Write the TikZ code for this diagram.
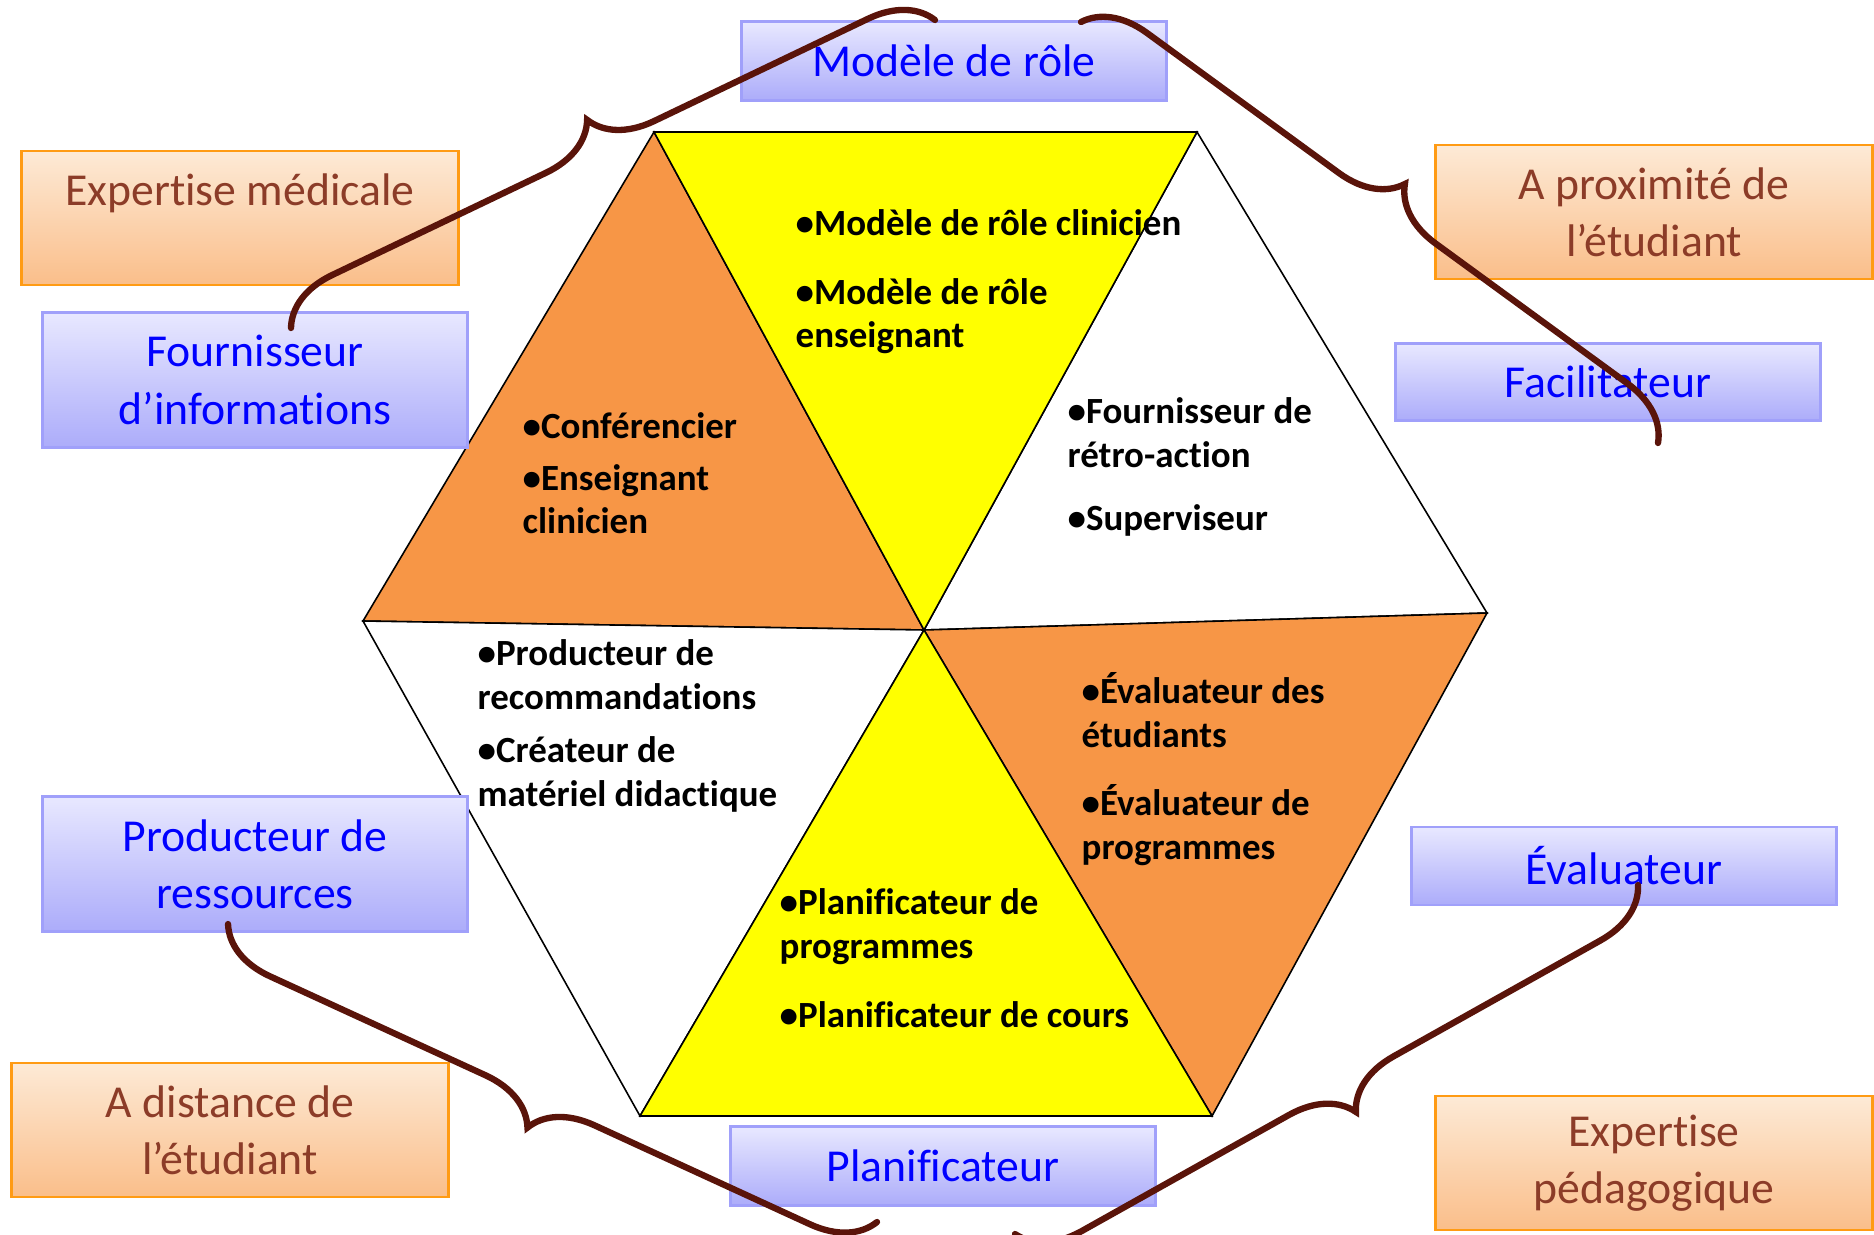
\documentclass[tikz,border=0pt]{standalone}
\usepackage{fontspec}
\setmainfont[Ligatures={NoCommon,NoContextual}, Contextuals=NoAlternate]{Carlito}
\usetikzlibrary{decorations.pathreplacing}
\definecolor{bordbleu}{RGB}{160,160,250}
\definecolor{hautbleu}{RGB}{232,232,255}
\definecolor{basbleu}{RGB}{172,172,250}
\definecolor{bordorange}{RGB}{255,155,20}
\definecolor{hautorange}{RGB}{253,234,214}
\definecolor{basorange}{RGB}{250,190,138}
\definecolor{brun}{RGB}{140,60,40}
\definecolor{accolade}{RGB}{90,20,10}
\definecolor{orangetri}{RGB}{247,150,70}
\definecolor{jaune}{RGB}{255,255,0}
\tikzset{
	boite/.style={minimum width=4.25cm, align=center, inner sep=0pt, line width=0.7pt, font=\fontsize{13}{16.3}\selectfont}, % Cadres des rôles
	bleue/.style={boite, draw=bordbleu, top color=hautbleu, bottom color=basbleu, text=blue}, % Rôles
	orange/.style={boite, minimum width=4.37cm, minimum height=1.34cm, draw=bordorange, top color=hautorange, bottom color=basorange, text=brun}, % Expertises
	liste/.style={anchor=base west, align=left, inner sep=0pt, font=\fontsize{10.5}{12.5}\selectfont\bfseries}, % Texte des triangles (ligne de base de la derniere ligne)
	tri/.style={draw=black, line width=0.45pt, line join=miter}, % Triangles de l'hexagone
	brace/.style={decorate, decoration={brace, amplitude=0.6cm}, draw=accolade, line width=1.8pt, line cap=round} % Accolades
}

\begin{document}
\begin{tikzpicture}[x=0.01cm, y=-0.01cm]
				\useasboundingbox (0,0) rectangle (1874,1234);
				
				\coordinate (hg) at (654,132);
				\coordinate (hd) at (1197,132);
				\coordinate (d) at (1487,613);
				\coordinate (bd) at (1212,1116);
				\coordinate (bg) at (640,1116);
				\coordinate (g) at (363,621);
				\coordinate (c) at (924,630);
				
				\filldraw[tri, fill=orangetri] (hg) -- (g) -- (c) -- cycle;
				\filldraw[tri, fill=white] (hd) -- (d) -- (c) -- cycle;
				\filldraw[tri, fill=white] (g) -- (bg) -- (c) -- cycle;
				\filldraw[tri, fill=orangetri] (d) -- (bd) -- (c) -- cycle;
				\filldraw[tri, fill=jaune] (hg) -- (hd) -- (c) -- cycle;
				\filldraw[tri, fill=jaune] (bg) -- (bd) -- (c) -- cycle;
				
				\node[liste] (t1) at (795,348) {•Modèle de rôle clinicien\\[0.25cm]•Modèle de rôle\\enseignant};
				\node[liste] (t2) at (522,534) {•Conférencier\\[0.08cm]•Enseignant\\clinicien};
				\node[liste] (t3) at (1067,530) {•Fournisseur de\\rétro-action\\[0.19cm]•Superviseur};
				\node[liste] (t4) at (477,806) {•Producteur de\\recommandations\\[0.09cm]•Créateur de\\matériel didactique};
				\node[liste] (t5) at (1081,859) {•Évaluateur des\\étudiants\\[0.24cm]•Évaluateur de\\programmes};
				\node[liste] (t6) at (779,1027) {•Planificateur de\\programmes\\[0.25cm]•Planificateur de cours};
				
				\node[bleue, minimum height=0.79cm] (modele) at (954,61) {Modèle de rôle};
				\node[bleue, minimum height=1.35cm] (fourn) at (255,380) {Fournisseur\\d’informations};
				\node[bleue, minimum height=0.77cm] (facil) at (1608,382) {Facilitateur};
				\node[bleue, minimum height=1.35cm] (prod) at (255,864) {Producteur de\\ressources};
				\node[bleue, minimum height=0.78cm] (eval) at (1624,866) {Évaluateur};
				\node[bleue, minimum height=0.79cm] (planif) at (943,1166) {Planificateur};
				
				\node[orange] (expmed) at (240,218) {Expertise médicale\\\mbox{}};
				\node[orange] (proxi) at (1654,212) {A proximité de\\l’étudiant};
				\node[orange] (dist) at (230,1130) {A distance de\\l’étudiant};
				\node[orange] (exppeda) at (1654,1163) {Expertise\\pédagogique};
				
				\coordinate (a1) at (291,328);
				\coordinate (a2) at (935,20);
				\coordinate (a3) at (1081,22);
				\coordinate (a4) at (1658,443);
				\coordinate (a5) at (1638,885);
				\coordinate (a6) at (1015,1234);
				\coordinate (a7) at (877,1222);
				\coordinate (a8) at (228,924);
				
				\draw	(a1) edge[brace] (a2)
						(a3) edge[brace] (a4)
						(a5) edge[brace] (a6)
						(a7) edge[brace] (a8);
			\end{tikzpicture}
\end{document}
